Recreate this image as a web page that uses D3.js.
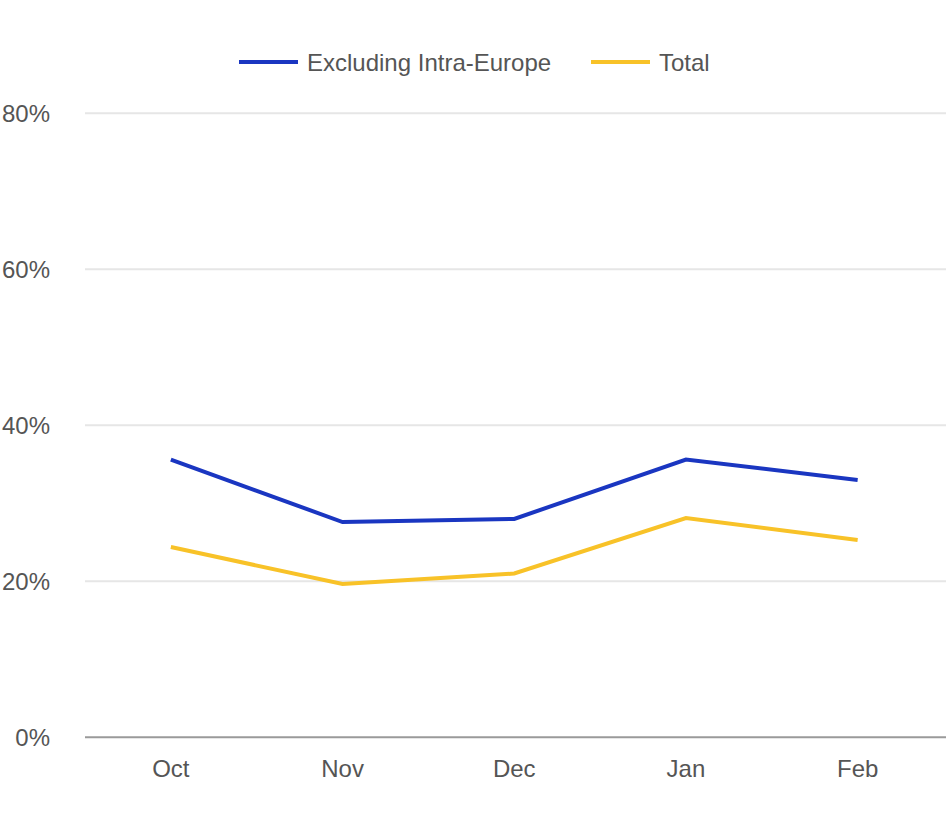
<!DOCTYPE html>
<html><head><meta charset="utf-8">
<script src="https://cdn.jsdelivr.net/npm/d3@7"></script>
<style>body{margin:0;background:#fff}svg{display:block}text{font-family:"Liberation Sans",Arial,sans-serif}</style>
</head><body><svg id="c" width="946" height="814"></svg>
<script>
const categories = ["Oct","Nov","Dec","Jan","Feb"];
const seriesNames = ["Excluding Intra-Europe","Total"];
const exclIntraEurope = [35.6,27.6,28.0,35.6,33.0];
const total = [24.4,19.65,21.0,28.1,25.3];
const yTicks = [0,20,40,60,80];
const colors = ["#1a36c1","#f8c228"];

const svg = d3.select("#c");
const x = d3.scalePoint().domain(categories).range([85,943.5]).padding(0.5);
const y = d3.scaleLinear().domain([0,80]).range([737.3,113.3]);

const grid = svg.append("g");
yTicks.forEach(t=>{
  grid.append("line").attr("x1",85).attr("x2",946).attr("y1",y(t)).attr("y2",y(t))
    .attr("stroke", t===0 ? "#9a9a9a" : "#e6e6e6").attr("stroke-width",2);
  grid.append("text").attr("x",50).attr("y",y(t)).attr("dy","0.36em").attr("text-anchor","end")
    .attr("font-size",24).attr("fill","#555").text(t+"%");
});
categories.forEach(c=>{
  svg.append("text").attr("x",x(c)).attr("y",777).attr("text-anchor","middle")
    .attr("font-size",24).attr("fill","#555").text(c);
});

const line = d3.line().x((d,i)=>x(categories[i])).y(d=>y(d));
[exclIntraEurope,total].forEach((s,k)=>{
  svg.append("path").datum(s).attr("d",line).attr("fill","none")
    .attr("stroke",colors[k]).attr("stroke-width",4).attr("stroke-linejoin","miter");
});

// legend
const leg = [{x:239,tx:307},{x:591,tx:659}];
seriesNames.forEach((n,k)=>{
  svg.append("line").attr("x1",leg[k].x).attr("x2",leg[k].x+59).attr("y1",62).attr("y2",62)
    .attr("stroke",colors[k]).attr("stroke-width",4);
  svg.append("text").attr("x",leg[k].tx).attr("y",62).attr("dy","0.36em")
    .attr("font-size",24).attr("fill","#555").text(n);
});
</script></body></html>
